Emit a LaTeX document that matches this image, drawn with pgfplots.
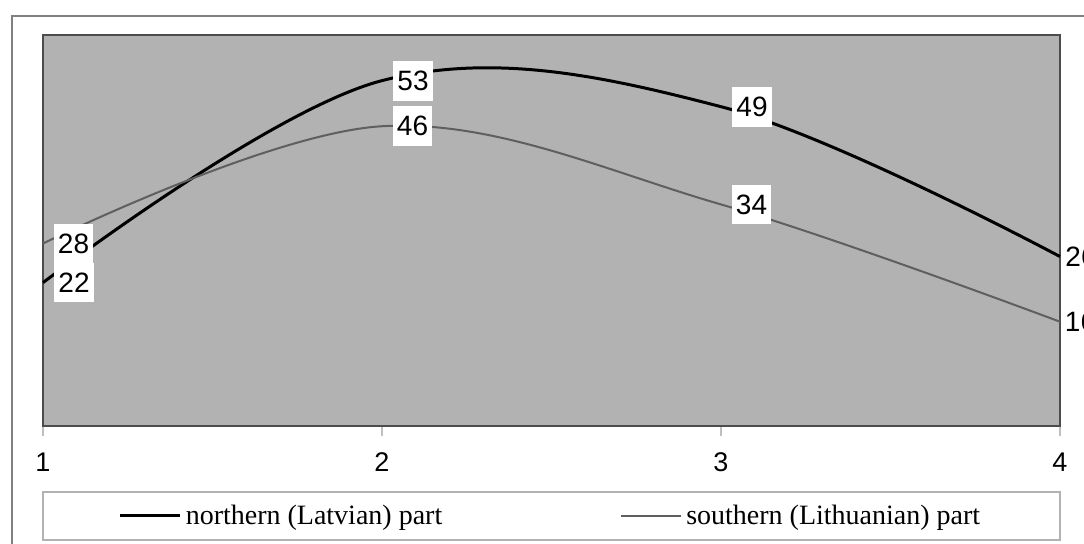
\documentclass[border=0pt]{standalone}
\usepackage{pgfplots}
\pgfplotsset{compat=1.18}
\usepackage{fontspec}
\setmainfont{Liberation Serif}
\newfontfamily\arial{Liberation Sans}
\definecolor{plotbg}{RGB}{178,178,178}
\definecolor{southgray}{RGB}{95,95,95}
\begin{document}
\begin{tikzpicture}
\begin{axis}[
    scale only axis,
    width=508.5pt, height=195.5pt,
    xmin=1, xmax=4, ymin=0, ymax=60,
    clip=false,
    axis background/.style={fill=plotbg},
    axis line style={draw=black!70, line width=0.8pt},
    ytick=\empty,
    xtick={1,2,3,4}, xticklabels={1,2,3,4},
    tick pos=bottom, tick align=outside,
    major tick length=5pt,
    every tick/.style={draw=black!25, line width=0.6pt},
    xticklabel style={font=\arial\fontsize{13.5}{16}\selectfont, anchor=center, yshift=-13pt},
    /pgf/number format/assume math mode=true,
    nodes near coords,
    visualization depends on={x \as \xv},
    every node near coord/.append style={font=\arial\fontsize{14}{16}\selectfont,
        anchor=west, fill=white, inner xsep=2pt, inner ysep=5pt, text=black,
        xshift={(\xv>3.5) ? 0 : 5}},
    legend columns=2,
    legend style={draw=none, fill=none, at={(0.5,-0.230)}, anchor=center,
        font=\fontsize{14}{16}\selectfont,
        /tikz/every even column/.append style={column sep=87pt}},
    legend image code/.code={\draw[#1] (0pt,0pt) -- (30pt,0pt);},
]
\addplot[black, line width=1.5pt, smooth, tension=0.6] coordinates {
    (1, 22)
    (2, 53)
    (3, 49)
    (4, 26)
};
\addlegendentry{northern (Latvian) part}
\addplot[southgray, line width=1pt, smooth, tension=0.6] coordinates {
    (1, 28)
    (2, 46)
    (3, 34)
    (4, 16)
};
\addlegendentry{southern (Lithuanian) part}
\end{axis}
% legend frame and outer chart frame
\draw[black!30, line width=0.6pt] (0pt,-33pt) rectangle (508.5pt,-57pt);
\draw[black!50, line width=0.75pt] (-15.5pt,-80pt) rectangle (560pt,205pt);
\pgfresetboundingbox
\useasboundingbox (-21.5pt,-59pt) rectangle (520.5pt,213pt);
\end{tikzpicture}
\end{document}
